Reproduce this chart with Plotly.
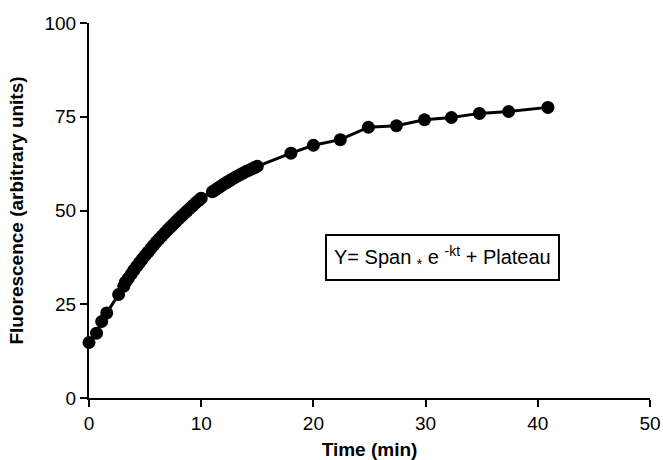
import plotly.graph_objects as go

time_min = [0, 0.67, 1.13, 1.58, 2.64, 3.1, 3.25, 3.5, 3.75, 4.0, 4.25, 4.5, 4.75, 5.0, 5.25,
            5.5, 5.75, 6.0, 6.25, 6.5, 6.75, 7.0, 7.25, 7.5, 7.75, 8.0, 8.25, 8.5, 8.75, 9.0,
            9.25, 9.5, 9.75, 10.0, 11.0, 11.25, 11.5, 11.75, 12.0, 12.25, 12.5, 12.75, 13.0,
            13.25, 13.5, 13.75, 14.0, 14.25, 14.5, 14.75, 15.0,
            18.0, 20.0, 22.4, 24.9, 27.4, 29.9, 32.3, 34.8, 37.4, 40.9]
fluorescence = [14.8, 17.3, 20.4, 22.7, 27.6, 29.8, 30.9, 31.9, 33.0, 34.1, 35.1, 36.1, 37.05,
                38.0, 38.9, 39.8, 40.7, 41.6, 42.4, 43.2, 44.0, 44.8, 45.55, 46.3, 47.05, 47.8,
                48.5, 49.2, 49.9, 50.6, 51.3, 52.0, 52.65, 53.3, 55.0, 55.5, 56.0, 56.5, 57.0,
                57.45, 57.9, 58.35, 58.8, 59.2, 59.6, 60.0, 60.4, 60.75, 61.1, 61.45, 61.8,
                65.3, 67.4, 68.9, 72.2, 72.6, 74.2, 74.8, 75.9, 76.4, 77.5]

x_ticks = [0, 10, 20, 30, 40, 50]
y_ticks = [0, 25, 50, 75, 100]
equation = "Y= Span <sub>*</sub> e <sup>-kt</sup> + Plateau"

font_family = "Liberation Sans, Arial, sans-serif"

fig = go.Figure()
fig.add_trace(go.Scatter(
    x=time_min, y=fluorescence, mode="lines+markers",
    line=dict(color="black", width=3),
    marker=dict(color="black", size=13),
    cliponaxis=False, showlegend=False,
))

axis_common = dict(
    showgrid=False, zeroline=False, showline=True, linecolor="black", linewidth=2,
    ticks="outside", ticklen=7, tickwidth=2, tickcolor="black", automargin=False,
    tickfont=dict(family=font_family, size=19, color="black"),
)

fig.update_xaxes(range=[0, 50], tickvals=x_ticks, ticktext=[str(v) for v in x_ticks],
                 title=dict(text="<b>Time (min)</b>", font=dict(family=font_family, size=19, color="black"), standoff=14),
                 **axis_common)
fig.update_yaxes(range=[0, 100], tickvals=y_ticks, ticktext=[str(v) for v in y_ticks],
                 title=dict(text="<b>Fluorescence (arbitrary units)</b>", font=dict(family=font_family, size=19, color="black"), standoff=16),
                 **axis_common)

fig.add_annotation(
    x=31.5, y=37.6, xref="x", yref="y", text=equation, showarrow=False,
    font=dict(family=font_family, size=20, color="black"),
    bordercolor="black", borderwidth=2, borderpad=7, bgcolor="white",
)

fig.update_layout(
    width=663, height=460,
    margin=dict(l=89, r=13, t=23, b=62),
    plot_bgcolor="white", paper_bgcolor="white",
)

fig.write_html("out.html", config={"displayModeBar": False},
               post_script="document.body.style.margin='0';")
